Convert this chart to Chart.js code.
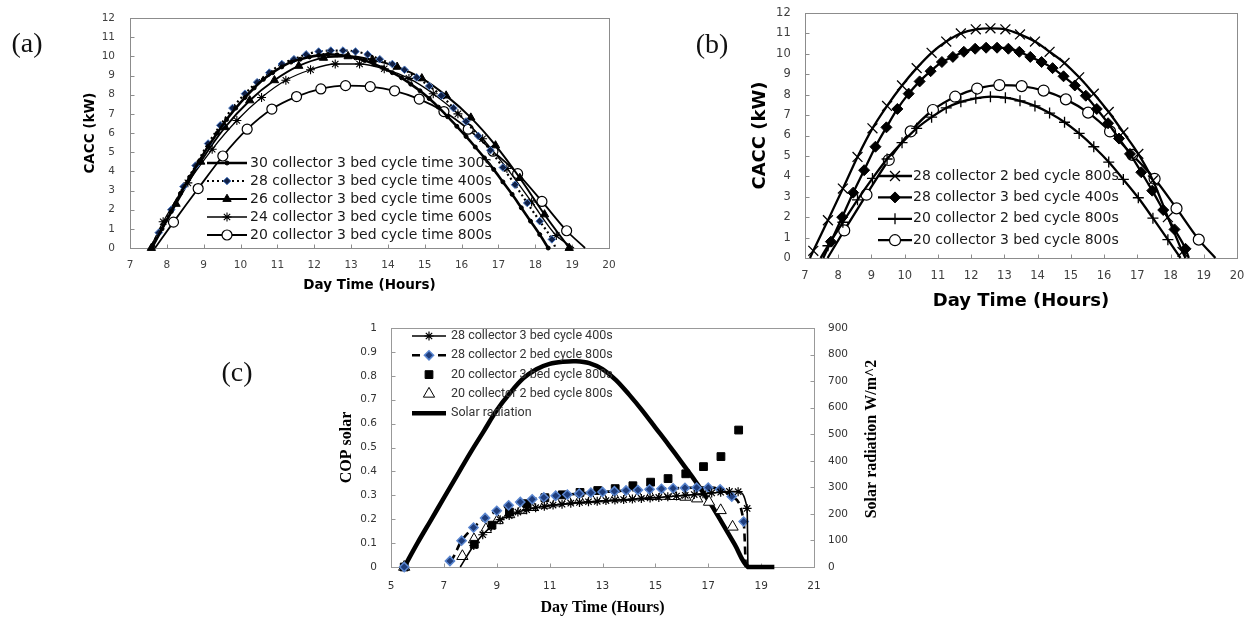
<!DOCTYPE html>
<html lang="en">
<head>
<meta charset="utf-8">
<title>CACC and COP solar vs day time</title>
<script src="https://cdn.jsdelivr.net/npm/chart.js@4.4.1/dist/chart.umd.min.js"></script>
<style>
  html, body { margin: 0; padding: 0; background: #ffffff; }
  #page { position: relative; width: 1256px; height: 619px; overflow: hidden; background: #fff; }
  #page canvas { position: absolute; }
  .tag { position: absolute; font-family: "Liberation Serif", "Times New Roman", serif; font-size: 28px; line-height: 1; color: #111; transform: translate(-50%, -50%); white-space: nowrap; }
</style>
</head>
<body>
<div id="page">
  <canvas id="chartA" width="640" height="300" style="left:0px;top:0px;width:640px;height:300px"></canvas>
  <canvas id="chartB" width="616" height="320" style="left:640px;top:0px;width:616px;height:320px"></canvas>
  <canvas id="chartC" width="700" height="329" style="left:200px;top:290px;width:700px;height:329px"></canvas>
  <div class="tag" style="left:27px;top:43px">(a)</div>
  <div class="tag" style="left:712px;top:44px">(b)</div>
  <div class="tag" style="left:237px;top:372px">(c)</div>
</div>
<script>
// axis ranges: [min, max, step]
const dayAxisAB = [7, 20, 1];
const caccAxis = [0, 12, 1];
const dayAxisC = [5, 21, 2];
const copAxis = [0, 1, 0.1];
const solarAxis = [0, 900, 100];

// legend labels
const labelsA = [
  "30 collector 3 bed cycle time 300s",
  "28 collector 3 bed cycle time 400s",
  "26 collector 3 bed cycle time 600s",
  "24 collector 3 bed cycle time 600s",
  "20 collector 3 bed cycle time 800s"
];
const labelsB = [
  "28 collector 2 bed cycle 800s",
  "28 collector 3 bed cycle 400s",
  "20 collector 2 bed cycle 800s",
  "20 collector 3 bed cycle 800s"
];
const labelsC = [
  "28 collector 3 bed cycle 400s",
  "28 collector 2 bed cycle 800s",
  "20 collector 3 bed cycle 800s",
  "20 collector 2 bed cycle 800s",
  "Solar radiation"
];

// CACC (kW) vs hour
const hours30c3b300 = [7.62, 7.87, 8.12, 8.37, 8.62, 8.87, 9.12, 9.37, 9.62, 9.87, 10.12, 10.37, 10.62, 10.87, 11.12, 11.37, 11.62, 11.87, 12.12, 12.37, 12.62, 12.87, 13.12, 13.37, 13.62, 13.87, 14.12, 14.37, 14.62, 14.87, 15.12, 15.37, 15.62, 15.87, 16.12, 16.37, 16.62, 16.87, 17.12, 17.37, 17.62, 17.87, 18.12, 18.35];
const cacc30c3b300 = [0.1, 1.0, 1.9, 2.85, 3.7, 4.5, 5.3, 6.0, 6.7, 7.3, 7.85, 8.35, 8.8, 9.15, 9.45, 9.7, 9.85, 9.97, 10.05, 10.1, 10.08, 10.02, 9.92, 9.78, 9.6, 9.4, 9.15, 8.88, 8.55, 8.2, 7.8, 7.35, 6.85, 6.35, 5.82, 5.27, 4.7, 4.1, 3.45, 2.8, 2.1, 1.4, 0.7, 0];

const hours28c3b400 = [7.55, 7.78, 8.12, 8.45, 8.78, 9.12, 9.45, 9.78, 10.12, 10.45, 10.78, 11.12, 11.45, 11.78, 12.12, 12.45, 12.78, 13.12, 13.45, 13.78, 14.12, 14.45, 14.78, 15.12, 15.45, 15.78, 16.12, 16.45, 16.78, 17.12, 17.45, 17.78, 18.12, 18.45, 18.55];
const cacc28c3b400 = [0, 0.8, 2.0, 3.2, 4.3, 5.45, 6.4, 7.3, 8.05, 8.65, 9.15, 9.6, 9.85, 10.1, 10.25, 10.3, 10.3, 10.25, 10.1, 9.85, 9.6, 9.3, 8.9, 8.45, 7.95, 7.3, 6.6, 5.85, 5.1, 4.2, 3.3, 2.35, 1.4, 0.45, 0];

const hours26c3b600 = [7.58, 8.25, 8.92, 9.58, 10.25, 10.92, 11.58, 12.25, 12.92, 13.58, 14.25, 14.92, 15.58, 16.25, 16.92, 17.58, 18.25, 18.92];
const cacc26c3b600 = [0, 2.3, 4.5, 6.3, 7.7, 8.75, 9.5, 9.92, 10.0, 9.82, 9.45, 8.85, 7.95, 6.8, 5.35, 3.65, 1.75, 0];

const hours24c3b600 = [7.55, 7.9, 8.57, 9.23, 9.9, 10.57, 11.23, 11.9, 12.57, 13.23, 13.9, 14.57, 15.23, 15.9, 16.57, 17.23, 17.9, 18.57, 19.05];
const cacc24c3b600 = [0, 1.37, 3.4, 5.15, 6.65, 7.85, 8.75, 9.3, 9.6, 9.6, 9.35, 8.85, 8.05, 7.0, 5.7, 4.15, 2.4, 0.65, 0];

const hours20c3b800 = [7.68, 8.18, 8.85, 9.52, 10.18, 10.85, 11.52, 12.18, 12.85, 13.52, 14.18, 14.85, 15.52, 16.18, 16.85, 17.52, 18.18, 18.85, 19.35];
const cacc20c3b800 = [0, 1.35, 3.1, 4.8, 6.2, 7.25, 7.9, 8.3, 8.47, 8.42, 8.2, 7.77, 7.12, 6.2, 5.05, 3.88, 2.43, 0.9, 0];

const hours28c2b800 = [7.15, 7.25, 7.69, 8.14, 8.58, 9.03, 9.47, 9.92, 10.36, 10.81, 11.25, 11.69, 12.14, 12.58, 13.03, 13.47, 13.92, 14.36, 14.81, 15.25, 15.69, 16.14, 16.58, 17.03, 17.47, 17.92, 18.36, 18.45];
const cacc28c2b800 = [0, 0.35, 1.85, 3.4, 4.95, 6.35, 7.45, 8.45, 9.3, 10.05, 10.6, 11.0, 11.2, 11.25, 11.2, 10.95, 10.6, 10.1, 9.55, 8.85, 8.05, 7.15, 6.15, 5.1, 3.8, 2.0, 0.3, 0];

const hours20c2b800 = [7.47, 7.69, 8.14, 8.58, 9.03, 9.47, 9.92, 10.36, 10.81, 11.25, 11.69, 12.14, 12.58, 13.03, 13.47, 13.92, 14.36, 14.81, 15.25, 15.69, 16.14, 16.58, 17.03, 17.47, 17.92, 18.3];
const cacc20c2b800 = [0, 0.6, 1.75, 2.85, 3.9, 4.85, 5.65, 6.35, 6.9, 7.35, 7.65, 7.82, 7.9, 7.85, 7.7, 7.45, 7.1, 6.65, 6.1, 5.45, 4.7, 3.85, 2.95, 1.95, 0.9, 0];

// COP solar and solar radiation vs hour
const copHours28c3b400 = [7.62, 8.13, 8.47, 8.8, 9.13, 9.47, 9.8, 10.13, 10.47, 10.8, 11.13, 11.47, 11.8, 12.13, 12.47, 12.8, 13.13, 13.47, 13.8, 14.13, 14.47, 14.8, 15.13, 15.47, 15.8, 16.13, 16.47, 16.8, 17.13, 17.47, 17.8, 18.13, 18.47, 18.5];
const cop28c3b400 = [0, 0.09, 0.135, 0.17, 0.198, 0.215, 0.23, 0.24, 0.248, 0.254, 0.259, 0.263, 0.267, 0.27, 0.273, 0.275, 0.278, 0.28, 0.282, 0.284, 0.287, 0.289, 0.291, 0.294, 0.297, 0.3, 0.303, 0.306, 0.31, 0.313, 0.316, 0.315, 0.245, 0];

const copHours28c2b800 = [5.5, 7.23, 7.67, 8.12, 8.56, 9.0, 9.45, 9.89, 10.34, 10.78, 11.23, 11.67, 12.12, 12.56, 13.0, 13.45, 13.89, 14.34, 14.78, 15.23, 15.67, 16.12, 16.56, 17.0, 17.45, 17.89, 18.34, 18.42];
const cop28c2b800 = [0, 0.025, 0.11, 0.165, 0.205, 0.235, 0.258, 0.272, 0.283, 0.291, 0.298, 0.303, 0.307, 0.311, 0.314, 0.317, 0.32, 0.322, 0.325, 0.327, 0.329, 0.331, 0.332, 0.332, 0.325, 0.295, 0.19, 0];

const copHours20c3b800 = [5.5, 8.15, 8.82, 9.48, 10.15, 10.82, 11.48, 12.15, 12.82, 13.48, 14.15, 14.82, 15.48, 16.15, 16.82, 17.48, 18.15];
const cop20c3b800 = [0, 0.095, 0.175, 0.23, 0.265, 0.29, 0.302, 0.312, 0.32, 0.328, 0.34, 0.355, 0.37, 0.39, 0.42, 0.462, 0.573];

const copHours20c2b800 = [5.5, 7.7, 8.14, 8.59, 9.03, 9.47, 9.92, 10.36, 10.81, 11.25, 11.7, 12.14, 12.58, 13.03, 13.47, 13.92, 14.36, 14.81, 15.25, 15.7, 16.14, 16.58, 17.03, 17.47, 17.92];
const cop20c2b800 = [0, 0.045, 0.115, 0.158, 0.195, 0.22, 0.237, 0.25, 0.26, 0.269, 0.276, 0.28, 0.283, 0.286, 0.289, 0.292, 0.294, 0.296, 0.297, 0.296, 0.293, 0.286, 0.272, 0.237, 0.168];

const hoursSolar = [5.5, 6, 6.5, 7, 7.5, 8, 8.5, 9, 9.5, 10, 10.5, 11, 11.5, 12, 12.5, 13, 13.5, 14, 14.5, 15, 15.5, 16, 16.5, 17, 17.5, 18, 18.5, 19, 19.5];
const solarRadiation = [0, 90, 175, 260, 345, 430, 510, 590, 655, 710, 745, 765, 773, 775, 768, 745, 705, 650, 590, 525, 460, 393, 325, 252, 170, 85, 0, 0, 0];

// plot frame + inside tick marks, like the spreadsheet look
const framePlugin = {
  id: 'frame',
  beforeDatasetsDraw(chart, args, opts) {
    const ctx = chart.ctx;
    const a = chart.chartArea;
    const l = Math.round(a.left) + 0.5, t = Math.round(a.top) + 0.5;
    const r = Math.round(a.right) + 0.5, b = Math.round(a.bottom) + 0.5;
    ctx.save();
    ctx.strokeStyle = opts.color;
    ctx.lineWidth = 1;
    ctx.strokeRect(l, t, r - l, b - t);
    ctx.beginPath();
    Object.values(chart.scales).forEach(scale => {
      scale.ticks.forEach(tick => {
        const p = Math.round(scale.getPixelForValue(tick.value)) + 0.5;
        if (scale.position === 'bottom') { ctx.moveTo(p, b); ctx.lineTo(p, b - opts.tick); }
        else if (scale.position === 'left') { ctx.moveTo(l, p); ctx.lineTo(l + opts.tick, p); }
        else { ctx.moveTo(r, p); ctx.lineTo(r - opts.tick, p); }
      });
    });
    ctx.stroke();
    ctx.restore();
  }
};

// legend drawn inside the plot area
const keyPlugin = {
  id: 'key',
  afterDatasetsDraw(chart, args, opts) {
    const ctx = chart.ctx;
    const a = chart.chartArea;
    chart.data.datasets.forEach((ds, i) => {
      const y = a.top + opts.top + i * opts.gap;
      const x0 = a.left + opts.left;
      const x1 = x0 + opts.sample;
      ctx.save();
      if (ds.showLine) {
        ctx.beginPath();
        ctx.setLineDash(ds.borderDash || []);
        ctx.lineWidth = ds.borderWidth;
        ctx.strokeStyle = ds.borderColor;
        ctx.moveTo(x0, y);
        ctx.lineTo(x1, y);
        ctx.stroke();
      }
      ctx.setLineDash([]);
      if (ds.keyRadius > 0 && Chart.helpers && Chart.helpers.drawPoint) {
        ctx.fillStyle = ds.pointBackgroundColor;
        ctx.strokeStyle = ds.pointBorderColor;
        ctx.lineWidth = ds.pointBorderWidth;
        Chart.helpers.drawPoint(ctx, { pointStyle: ds.pointStyle, radius: ds.keyRadius, rotation: 0, borderWidth: ds.pointBorderWidth }, (x0 + x1) / 2, y);
      }
      ctx.fillStyle = opts.color;
      ctx.font = opts.font;
      ctx.textAlign = 'left';
      ctx.textBaseline = 'middle';
      ctx.fillText(ds.label, x1 + opts.textGap, y);
      ctx.restore();
    });
  }
};

// right axis title reads bottom-to-top
const sideTitlePlugin = {
  id: 'sideTitle',
  afterDraw(chart, args, opts) {
    if (!opts || !opts.text) return;
    const ctx = chart.ctx;
    const a = chart.chartArea;
    ctx.save();
    ctx.translate(a.right + opts.offset, (a.top + a.bottom) / 2 + opts.shift);
    ctx.rotate(-Math.PI / 2);
    ctx.font = opts.font;
    ctx.fillStyle = opts.color;
    ctx.textAlign = 'center';
    ctx.textBaseline = 'middle';
    ctx.fillText(opts.text, 0, 0);
    ctx.restore();
  }
};

function series(label, hours, values, look) {
  const last = hours.length - 1;
  const radius = look.radius || 0;
  const ds = {
    label: label,
    data: hours.map((h, i) => ({ x: h, y: values[i] })),
    yAxisID: look.axis || 'y',
    showLine: look.line !== false,
    borderColor: '#000',
    borderWidth: look.width || 2,
    borderDash: look.dash || [],
    pointStyle: look.marker || 'circle',
    pointRadius: ctx => ((look.bareFirst && ctx.dataIndex === 0) || (look.bareLast && ctx.dataIndex === last)) ? 0 : radius,
    pointHoverRadius: 0,
    pointBackgroundColor: look.fill || '#000',
    pointBorderColor: look.edge || '#000',
    pointBorderWidth: look.edgeWidth || 1,
    clip: false,
    keyRadius: radius
  };
  if (look.tension) {
    ds.tension = look.tension;
  } else {
    ds.cubicInterpolationMode = 'monotone';
  }
  if (look.gapFirst) {
    ds.segment = { borderColor: ctx => ctx.p0DataIndex === 0 ? 'rgba(0,0,0,0)' : undefined };
  }
  return ds;
}

function axis(position, range, look) {
  return {
    type: 'linear',
    position: position,
    min: range[0],
    max: range[1],
    ticks: {
      stepSize: range[2],
      color: look.tickColor,
      font: look.tickFont,
      padding: look.tickPad,
      callback: v => String(Math.round(v * 10) / 10)
    },
    grid: { display: false, drawTicks: false },
    border: { display: false },
    title: look.title
      ? { display: true, text: look.title, color: '#000', font: look.titleFont, padding: look.titlePad }
      : { display: false },
    afterFit: scale => {
      if (scale.isHorizontal()) scale.height = look.size;
      else scale.width = look.size;
      // labels may hang over the ends, the layout padding already leaves room
      scale.paddingTop = 0;
      scale.paddingBottom = 0;
      scale.paddingLeft = 0;
      scale.paddingRight = 0;
    }
  };
}

function baseOptions(padding) {
  return {
    responsive: false,
    animation: false,
    devicePixelRatio: 1,
    events: [],
    layout: { padding: padding }
  };
}

// ✅ Panel (a)
function drawPanelA() {
  const tickFont = { family: 'DejaVu Sans', size: 10.5 };
  const titleFont = { family: 'DejaVu Sans', size: 13.5, weight: 'bold' };
  const opts = baseOptions({ left: 0, top: 18, right: 31, bottom: 0 });
  opts.scales = {
    x: axis('bottom', dayAxisAB, { tickColor: '#404040', tickFont, tickPad: 10.7, title: 'Day Time (Hours)', titleFont, titlePad: { top: 0, bottom: 6.9 }, size: 52 }),
    y: axis('left', caccAxis, { tickColor: '#404040', tickFont, tickPad: 15, title: 'CACC (kW)', titleFont, titlePad: { top: 81.9, bottom: 0 }, size: 130 })
  };
  opts.plugins = {
    legend: { display: false },
    tooltip: { enabled: false },
    frame: { color: '#8c8c8c', tick: 4 },
    key: { left: 77, top: 145, gap: 18, sample: 40, textGap: 3, font: '14px "DejaVu Sans"', color: '#1a1a1a' }
  };
  new Chart(document.getElementById('chartA'), {
    type: 'scatter',
    data: {
      datasets: [
        series(labelsA[0], hours30c3b300, cacc30c3b300, { marker: 'circle', radius: 2, width: 2.6 }),
        series(labelsA[1], hours28c3b400, cacc28c3b400, { marker: 'rectRot', radius: 3.8, width: 2.2, dash: [2, 3], fill: '#0f1f45', edge: '#4a78c2', bareFirst: true, bareLast: true }),
        series(labelsA[2], hours26c3b600, cacc26c3b600, { marker: 'triangle', radius: 4.8, width: 2 }),
        series(labelsA[3], hours24c3b600, cacc24c3b600, { marker: 'star', radius: 4.5, width: 1.3, edgeWidth: 1.1, bareFirst: true, bareLast: true }),
        series(labelsA[4], hours20c3b800, cacc20c3b800, { marker: 'circle', radius: 5, width: 1.8, fill: '#fff', edgeWidth: 1.2, bareFirst: true, bareLast: true })
      ]
    },
    options: opts,
    plugins: [framePlugin, keyPlugin]
  });
}

// ✅ Panel (b)
function drawPanelB() {
  const tickFont = { family: 'DejaVu Sans', size: 11.5 };
  const titleFont = { family: 'DejaVu Sans', size: 18, weight: 'bold' };
  const opts = baseOptions({ left: 0, top: 13, right: 19, bottom: 0 });
  opts.scales = {
    x: axis('bottom', dayAxisAB, { tickColor: '#404040', tickFont, tickPad: 11.1, title: 'Day Time (Hours)', titleFont, titlePad: { top: 0, bottom: 8.2 }, size: 62 }),
    y: axis('left', caccAxis, { tickColor: '#404040', tickFont, tickPad: 14.3, title: 'CACC (kW)', titleFont, titlePad: { top: 109.2, bottom: 0 }, size: 165 })
  };
  opts.plugins = {
    legend: { display: false },
    tooltip: { enabled: false },
    frame: { color: '#8c8c8c', tick: 4 },
    key: { left: 73, top: 163, gap: 21.4, sample: 34, textGap: 1, font: '14px "DejaVu Sans"', color: '#1a1a1a' }
  };
  new Chart(document.getElementById('chartB'), {
    type: 'scatter',
    data: {
      datasets: [
        series(labelsB[0], hours28c2b800, cacc28c2b800, { marker: 'crossRot', radius: 7, width: 2.3, edgeWidth: 1.3, bareFirst: true, bareLast: true }),
        series(labelsB[1], hours28c3b400, cacc28c3b400, { marker: 'rectRot', radius: 5.5, width: 2.3, bareFirst: true, bareLast: true }),
        series(labelsB[2], hours20c2b800, cacc20c2b800, { marker: 'cross', radius: 5.5, width: 2.3, edgeWidth: 1.3, bareFirst: true, bareLast: true }),
        series(labelsB[3], hours20c3b800, cacc20c3b800, { marker: 'circle', radius: 5.5, width: 2.3, fill: '#fff', edgeWidth: 1.2, bareFirst: true, bareLast: true })
      ]
    },
    options: opts,
    plugins: [framePlugin, keyPlugin]
  });
}

// ✅ Panel (c)
function drawPanelC() {
  const tickFont = { family: 'DejaVu Sans', size: 10.5 };
  const titleFont = { family: 'Liberation Serif', size: 16, weight: 'bold' };
  const opts = baseOptions({ left: 0, top: 38, right: 0, bottom: 0 });
  opts.scales = {
    x: axis('bottom', dayAxisC, { tickColor: '#333', tickFont, tickPad: 12.7, title: 'Day Time (Hours)', titleFont, titlePad: { top: 0, bottom: 1.4 }, size: 52 }),
    y: axis('left', copAxis, { tickColor: '#333', tickFont, tickPad: 14, title: 'COP solar', titleFont, titlePad: { top: 137.4, bottom: 0 }, size: 191 }),
    y2: axis('right', solarAxis, { tickColor: '#333', tickFont, tickPad: 14, size: 86 })
  };
  opts.plugins = {
    legend: { display: false },
    tooltip: { enabled: false },
    frame: { color: '#999', tick: 4 },
    key: { left: 21, top: 8, gap: 19.3, sample: 34, textGap: 5, font: '12.5px Roboto', color: '#333' },
    sideTitle: { text: 'Solar radiation W/m^2', offset: 58, shift: -8.5, font: 'bold 16px "Liberation Serif"', color: '#000' }
  };
  new Chart(document.getElementById('chartC'), {
    type: 'scatter',
    data: {
      datasets: [
        series(labelsC[0], copHours28c3b400, cop28c3b400, { marker: 'star', radius: 4.5, width: 1.6, edgeWidth: 1.2, bareFirst: true, bareLast: true }),
        series(labelsC[1], copHours28c2b800, cop28c2b800, { marker: 'rectRot', radius: 4.6, width: 2.6, dash: [8, 5], fill: '#1e3c7a', edge: '#5a86d0', edgeWidth: 1.5, gapFirst: true, bareLast: true }),
        series(labelsC[2], copHours20c3b800, cop20c3b800, { marker: 'rect', radius: 5.5, line: false }),
        series(labelsC[3], copHours20c2b800, cop20c2b800, { marker: 'triangle', radius: 6.5, line: false, fill: '#fff', edgeWidth: 1 }),
        series(labelsC[4], hoursSolar, solarRadiation, { axis: 'y2', radius: 0, width: 4.5, tension: 0.35 })
      ]
    },
    options: opts,
    plugins: [framePlugin, keyPlugin, sideTitlePlugin]
  });
}

drawPanelA();
drawPanelB();
drawPanelC();
</script>
</body>
</html>
